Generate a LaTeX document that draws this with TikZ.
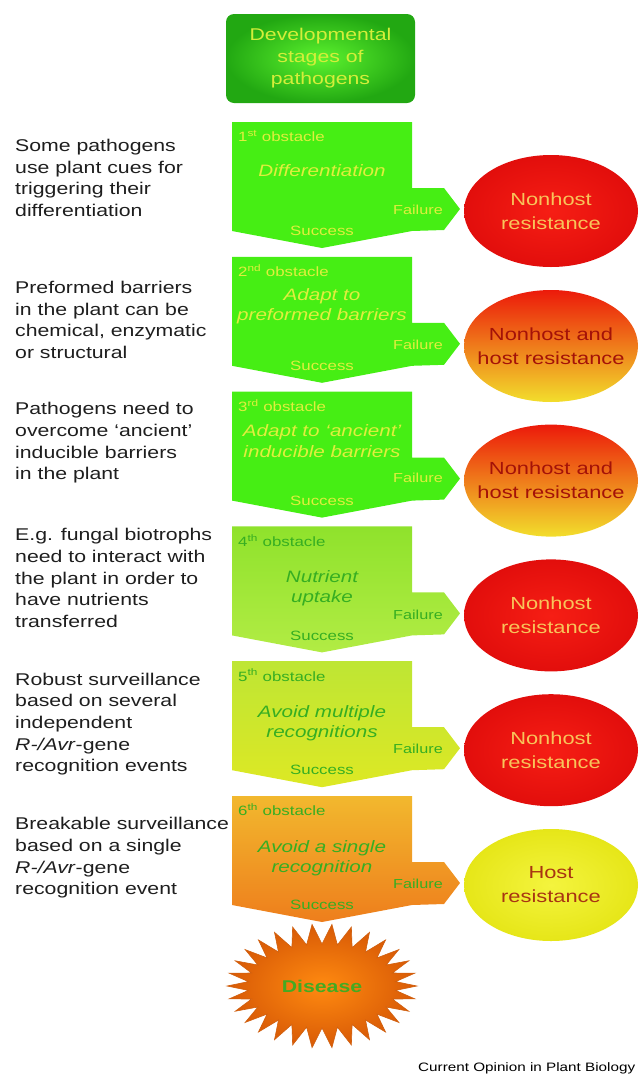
\documentclass[tikz,border=0pt]{standalone}
\usepackage{fontspec}
\setmainfont{Liberation Sans}[FakeStretch=1.25]
\usetikzlibrary{shapes.geometric,positioning}

\definecolor{notegray}{HTML}{1E1E1E}
\definecolor{obsgreen}{HTML}{46EE14}
\definecolor{paleyellow}{HTML}{E0EE3E}
\definecolor{leafgreen}{HTML}{36AE22}
\definecolor{lightorange}{HTML}{F8C45A}
\definecolor{darkred}{HTML}{A41208}
\definecolor{rustred}{HTML}{A83412}
\definecolor{stagetext}{HTML}{D4EE3A}
\definecolor{diseasetext}{HTML}{44AA22}

\tikzset{
  note/.style={anchor=west, align=left, inner sep=0pt, text=notegray,
    font=\fontsize{17}{21.7}\selectfont},
  obsnum/.style={anchor=west, inner sep=0pt, font=\fontsize{13.5}{16}\selectfont},
  obstask/.style={align=center, inner sep=0pt, font=\fontsize{16.5}{20.5}\selectfont\itshape},
  failtext/.style={inner sep=0pt, font=\fontsize{13}{15}\selectfont},
  succtext/.style={inner sep=0pt, font=\fontsize{13.5}{15}\selectfont},
  early/.style={text=paleyellow},
  late/.style={text=leafgreen},
  obsA/.style={fill=obsgreen},
  obsD/.style={top color={rgb,255:red,143;green,226;blue,44}, bottom color={rgb,255:red,178;green,236;blue,68}},
  obsE/.style={top color={rgb,255:red,190;green,230;blue,52}, bottom color={rgb,255:red,221;green,232;blue,36}},
  obsF/.style={top color={rgb,255:red,242;green,184;blue,46}, bottom color={rgb,255:red,238;green,126;blue,28}},
  result/.style={ellipse, minimum width=174pt, minimum height=112pt, inner sep=0pt},
  nonhost/.style={result, inner color={rgb,255:red,246;green,30;blue,20}, outer color={rgb,255:red,226;green,14;blue,12}},
  mixed/.style={result, top color={rgb,255:red,236;green,26;blue,10}, middle color={rgb,255:red,242;green,138;blue,30}, bottom color={rgb,255:red,242;green,222;blue,44}},
  host/.style={result, inner color={rgb,255:red,244;green,244;blue,62}, outer color={rgb,255:red,230;green,230;blue,24}},
  restext/.style={align=center, inner sep=0pt, font=\fontsize{17.5}{24}\selectfont},
  stagebox/.style={rectangle, rounded corners=8pt, minimum width=189pt, minimum height=89pt,
    inner color={rgb,255:red,92;green,242;blue,46}, outer color={rgb,255:red,34;green,168;blue,18},
    text=stagetext, align=center, font=\fontsize{17}{22}\selectfont},
  diseasestar/.style={inner color={rgb,255:red,255;green,138;blue,16}, outer color={rgb,255:red,216;green,90;blue,6},
    draw={rgb,255:red,208;green,96;blue,16}, line width=0.6pt}
}

\begin{document}
\begin{tikzpicture}[x=1pt,y=-1pt]
  \useasboundingbox (0,0) rectangle (640,1077);

  % stages box
  \node[stagebox] (stages) at (320.5,58.5) {Developmental\\stages of\\pathogens};

  % obstacle arrows
  \foreach \t/\s in {122/obsA, 256.8/obsA, 391.6/obsA, 526.4/obsD, 661.2/obsE, 796/obsF}
    \path[\s] (232,\t) -- (412,\t) -- (412,\t+66) -- (444,\t+66) -- (460,\t+87)
      -- (444,\t+108) -- (412,\t+109) -- (322,\t+126) -- (232,\t+109) -- cycle;

  % notes on the left
  \node[note] (note1) at (15,178) {Some pathogens\\use plant cues for\\triggering their\\differentiation};
  \node[note] (note2) at (15,320) {Preformed barriers\\in the plant can be\\chemical, enzymatic\\or structural};
  \node[note] (note3) at (15,443) {Pathogens need to\\overcome `ancient'\\inducible barriers\\in the plant};
  \node[note] (note4) at (15,578) {E.g. fungal biotrophs\\need to interact with\\the plant in order to\\have nutrients\\transferred};
  \node[note] (note5) at (15,724) {Robust surveillance\\based on several\\independent\\\textit{R-/Avr}-gene\\recognition events};
  \node[note] (note6) at (15,858) {Breakable surveillance\\based on a single\\\textit{R-/Avr}-gene\\recognition event};

  % 1st obstacle
  \node[obsnum,early] (num1) at (238,136) {1\textsuperscript{st} obstacle};
  \node[obstask,early] (task1) at (322,171) {Differentiation};
  \node[failtext,early] (fail1) at (418,210) {Failure};
  \node[succtext,early] (succ1) at (322,231) {Success};
  \node[nonhost] (res1) at (551,211) {};
  \node[restext,text=lightorange] at (res1) {Nonhost\\resistance};

  % 2nd obstacle
  \node[obsnum,early] (num2) at (238,271) {2\textsuperscript{nd} obstacle};
  \node[obstask,early] (task2) at (322,306) {Adapt to\\preformed barriers};
  \node[failtext,early] (fail2) at (418,345) {Failure};
  \node[succtext,early] (succ2) at (322,366) {Success};
  \node[mixed] (res2) at (551,346) {};
  \node[restext,text=darkred] at (res2) {Nonhost and\\host resistance};

  % 3rd obstacle
  \node[obsnum,early] (num3) at (238,405.6) {3\textsuperscript{rd} obstacle};
  \node[obstask,early] (task3) at (322,441) {Adapt to `ancient'\\inducible barriers};
  \node[failtext,early] (fail3) at (418,478) {Failure};
  \node[succtext,early] (succ3) at (322,500.6) {Success};
  \node[mixed] (res3) at (551,480.6) {};
  \node[restext,text=darkred] at (res3) {Nonhost and\\host resistance};

  % 4th obstacle
  \node[obsnum,late] (num4) at (238,540.4) {4\textsuperscript{th} obstacle};
  \node[obstask,late] (task4) at (322,588.4) {Nutrient\\uptake};
  \node[failtext,late] (fail4) at (418,614.4) {Failure};
  \node[succtext,late] (succ4) at (322,635.4) {Success};
  \node[nonhost] (res4) at (551,615.4) {};
  \node[restext,text=lightorange] at (res4) {Nonhost\\resistance};

  % 5th obstacle
  \node[obsnum,late] (num5) at (238,675.2) {5\textsuperscript{th} obstacle};
  \node[obstask,late] (task5) at (322,723.2) {Avoid multiple\\recognitions};
  \node[failtext,late] (fail5) at (418,749.2) {Failure};
  \node[succtext,late] (succ5) at (322,770.2) {Success};
  \node[nonhost] (res5) at (551,750.2) {};
  \node[restext,text=lightorange] at (res5) {Nonhost\\resistance};

  % 6th obstacle
  \node[obsnum,late] (num6) at (238,810) {6\textsuperscript{th} obstacle};
  \node[obstask,late] (task6) at (322,858) {Avoid a single\\recognition};
  \node[failtext,late] (fail6) at (418,884) {Failure};
  \node[succtext,late] (succ6) at (322,905) {Success};
  \node[host] (res6) at (551,885) {};
  \node[restext,text=rustred] at (res6) {Host\\resistance};

  % disease
  \shade[diseasestar] plot[domain=0:59, samples=60, variable=\k]
    ({322+(84.5+10.5*cos(180*\k))*cos(6*\k)}, {986+(52+10*cos(180*\k))*sin(6*\k)}) -- cycle;
  \node[text=diseasetext, font=\fontsize{17}{20}\selectfont\bfseries] (disease) at (322,986) {Disease};

  \node[anchor=west, inner sep=0pt, font=\fontsize{12.2}{14}\selectfont] (credit) at (418,1068) {Current Opinion in Plant Biology};
\end{tikzpicture}
\end{document}
